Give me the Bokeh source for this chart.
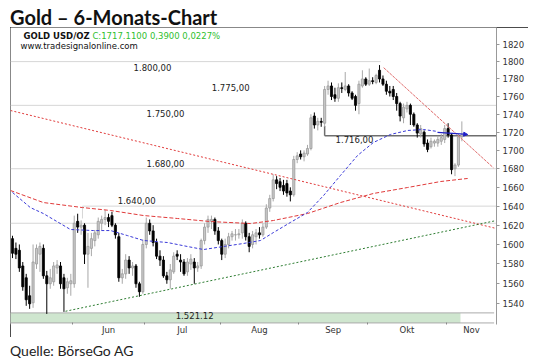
import numpy as np
from bokeh.plotting import figure
from bokeh.models import (Range1d, FixedTicker, NumeralTickFormatter, Label, Div,
                          Arrow, NormalHead, ColumnDataSource)
from bokeh.layouts import column
from bokeh.embed import file_html
from bokeh.resources import INLINE

# ---------------- data (daily OHLC, trading days from 8 May) ----------------
opn = [1606, 1596, 1594, 1578, 1566, 1548, 1541, 1580, 1590, 1596, 1568, 1560, 1562, 1576, 1578, 1566, 1556, 1560,
       1560, 1624, 1618, 1620, 1590, 1596, 1604, 1610, 1622, 1626, 1628, 1630, 1620, 1608, 1566, 1570, 1584, 1576,
       1578, 1560, 1552, 1600, 1622, 1614, 1602, 1588, 1584, 1568, 1564, 1572, 1590, 1584, 1582, 1572, 1580, 1582,
       1576, 1578, 1604, 1618, 1624, 1626, 1614, 1604, 1590, 1600, 1608, 1610, 1610, 1612, 1622, 1608, 1600, 1608,
       1612, 1610, 1618, 1638, 1648, 1668, 1666, 1662, 1664, 1656, 1652, 1690, 1696, 1693, 1696, 1702, 1738, 1728,
       1732, 1730, 1768, 1772, 1762, 1758, 1770, 1768, 1772, 1764, 1760, 1752, 1772, 1780, 1774, 1778, 1776, 1790,
       1780, 1774, 1766, 1768, 1760, 1752, 1736, 1746, 1750, 1740, 1728, 1718, 1720, 1708, 1704, 1708, 1708, 1710,
       1712, 1724, 1717, 1680, 1684, 1715]
high = [1609, 1602, 1600, 1582, 1570, 1558, 1600, 1600, 1602, 1600, 1573, 1575, 1582, 1584, 1582, 1570, 1566, 1570,
        1630, 1632, 1625, 1622, 1612, 1612, 1615, 1628, 1630, 1636, 1632, 1634, 1622, 1612, 1575, 1590, 1588, 1582,
        1580, 1562, 1605, 1628, 1626, 1620, 1606, 1594, 1588, 1572, 1580, 1592, 1594, 1590, 1585, 1586, 1590, 1586,
        1582, 1606, 1622, 1630, 1630, 1628, 1618, 1606, 1606, 1612, 1614, 1616, 1616, 1626, 1624, 1612, 1614, 1616,
        1618, 1622, 1642, 1652, 1674, 1672, 1670, 1668, 1668, 1660, 1694, 1698, 1700, 1700, 1706, 1740, 1742, 1736,
        1736, 1772, 1778, 1776, 1770, 1775, 1776, 1788, 1774, 1766, 1762, 1778, 1790, 1782, 1792, 1782, 1786, 1796,
        1784, 1778, 1772, 1772, 1764, 1754, 1752, 1754, 1752, 1742, 1730, 1728, 1722, 1712, 1714, 1712, 1716, 1718,
        1728, 1730, 1719, 1686, 1718, 1732]
low = [1586, 1585, 1572, 1553, 1538, 1535, 1536, 1575, 1572, 1565, 1530, 1555, 1558, 1570, 1555, 1532, 1550, 1548,
       1556, 1612, 1610, 1580, 1556, 1588, 1598, 1606, 1615, 1620, 1618, 1618, 1606, 1562, 1560, 1565, 1570, 1568,
       1556, 1547, 1550, 1596, 1610, 1598, 1585, 1578, 1566, 1560, 1555, 1570, 1584, 1572, 1568, 1568, 1574, 1560,
       1572, 1575, 1600, 1612, 1616, 1610, 1600, 1584, 1586, 1596, 1604, 1604, 1606, 1606, 1604, 1592, 1596, 1600,
       1606, 1608, 1616, 1634, 1645, 1658, 1656, 1652, 1650, 1645, 1650, 1686, 1690, 1688, 1694, 1700, 1724, 1722,
       1726, 1726, 1762, 1756, 1754, 1754, 1764, 1766, 1760, 1756, 1744, 1740, 1770, 1772, 1772, 1774, 1774, 1776,
       1772, 1762, 1760, 1756, 1744, 1732, 1730, 1742, 1728, 1726, 1714, 1714, 1704, 1698, 1702, 1704, 1704, 1706,
       1708, 1714, 1674, 1672, 1682, 1710]
close = [1591, 1590, 1576, 1557, 1544, 1540, 1582, 1596, 1598, 1568, 1560, 1566, 1578, 1579, 1560, 1555, 1562, 1563,
         1622, 1618, 1620, 1590, 1598, 1606, 1612, 1624, 1626, 1628, 1624, 1620, 1610, 1566, 1570, 1584, 1576, 1578,
         1560, 1552, 1600, 1622, 1614, 1602, 1588, 1584, 1568, 1564, 1574, 1588, 1588, 1582, 1570, 1582, 1585, 1576,
         1578, 1604, 1618, 1626, 1626, 1614, 1604, 1590, 1600, 1608, 1611, 1610, 1611, 1622, 1608, 1598, 1610, 1612,
         1610, 1618, 1638, 1648, 1668, 1664, 1660, 1656, 1654, 1652, 1690, 1694, 1693, 1697, 1702, 1736, 1728, 1732,
         1731, 1768, 1772, 1760, 1758, 1770, 1769, 1772, 1764, 1758, 1750, 1774, 1780, 1774, 1778, 1777, 1784, 1780,
         1774, 1766, 1764, 1760, 1752, 1738, 1748, 1750, 1740, 1728, 1719, 1724, 1707, 1701, 1710, 1710, 1712, 1714,
         1724, 1717, 1679, 1684, 1715, 1717]

# moving averages (day index, price)
ma200_x = [-0.6, 9.0, 20.4, 28.6, 38.2, 48.1, 57.7, 69.4, 76.1, 86.0, 95.6, 105.2, 115.2, 124.8, 132.7]
ma200_y = [1656.6, 1643.8, 1638.5, 1635.4, 1630.1, 1627.0, 1623.8, 1621.7, 1624.9, 1632.2, 1643.8, 1653.4,
           1659.8, 1666.2, 1669.5]
ma50_x = [0, 5.2, 9.0, 16.9, 23.6, 28.6, 33.5, 38.2, 45.2, 51.0, 55.7, 61.5, 67.3, 72.3, 76.1, 81.0, 86.0,
          90.7, 95.6, 100.6, 105.2, 110.2, 115.2, 119.8, 123.9]
ma50_y = [1654.5, 1638.5, 1632.2, 1615.5, 1614.4, 1614.4, 1609.2, 1604.1, 1602.0, 1597.9, 1594.8, 1597.9,
          1601.0, 1604.1, 1612.4, 1622.8, 1633.3, 1651.3, 1672.7, 1694.4, 1708.6, 1717.5, 1721.9, 1723.0, 1720.8]

# trend lines (start/end: day index, price)
trend_long_x = [-0.58, 141.1]
trend_long_y = [1744.2, 1616.5]
trend_up_x = [15.45, 141.1]
trend_up_y = [1532.6, 1624.9]
trend_steep_x = [108.2, 140.2]
trend_steep_y = [1793.0, 1681.0]

# horizontal levels
level_vals = [1800, 1775, 1750, 1716, 1680, 1640, 1521.12]
level_text = ["1.800,00", "1.775,00", "1.750,00", "1.716,00", "1.680,00", "1.640,00", "1.521.12"]
band_top = 1531.0

# axes
month_names = ["Jun", "Jul", "Aug", "Sep", "Okt", "Nov"]
month_start = [17.5, 38.5, 60.5, 83.5, 103.5, 126.5]
price_ticks = list(range(1540, 1821, 20))

X0, X1 = -0.58, 141.1
Y0, Y1 = 1519.6, 1840.0
SMALL = "DejaVu Sans"

# ---------------- figure ----------------
o = np.array(opn, float); h = np.array(high, float); l = np.array(low, float); c = np.array(close, float)
idx = np.arange(len(c))
up = c >= o
src = ColumnDataSource(dict(
    x=idx, top=np.maximum(o, c), bot=np.minimum(o, c), hi=h, lo=l,
    fill=np.where(up, "#c8c8c8", "#000000"),
    edge=np.where(up, "#9a9a9a", "#000000"),
    wick=np.where(up, "#a8a8a8", "#000000"),
))

p = figure(width=518, height=310, x_range=Range1d(X0, X1), y_range=Range1d(Y0, Y1),
           y_axis_type="log", y_axis_location="right", output_backend="svg", toolbar_location=None,
           min_border_left=0, min_border_right=32, min_border_top=0, min_border_bottom=13,
           background_fill_color="white", border_fill_color="white")
p.styles = {"outline": "1.5px solid #111", "outline-offset": "-1.5px"}
p.outline_line_color = None
p.xgrid.visible = False
p.ygrid.visible = False

# y axis
ya = p.yaxis[0]
ya.ticker = FixedTicker(ticks=price_ticks)
ya.formatter = NumeralTickFormatter(format="0")
ya.major_label_text_font = SMALL
ya.major_label_text_font_size = "8.5px"
ya.major_label_text_color = "#333333"
ya.axis_line_color = "#999999"
ya.major_tick_line_color = "#999999"
ya.major_tick_out = 3
ya.major_tick_in = 0
ya.minor_tick_line_color = None
ya.minor_tick_out = 0
ya.major_label_standoff = 3
ya.axis_label_standoff = 0

# x axis
month_mid = [(month_start[k] + (month_start[k + 1] if k + 1 < len(month_start) else X1)) / 2
             for k in range(len(month_start))]
xa = p.xaxis[0]
xa.ticker = FixedTicker(ticks=month_mid, minor_ticks=month_start)
xa.major_label_overrides = {m: n for m, n in zip(month_mid, month_names)}
xa.major_label_text_font = SMALL
xa.major_label_text_font_size = "8.5px"
xa.major_label_text_color = "#333333"
xa.axis_line_color = None
xa.major_tick_line_color = None
xa.major_tick_out = 0
xa.major_tick_in = 0
xa.minor_tick_line_color = "#888888"
xa.minor_tick_out = 0
xa.minor_tick_in = 2
xa.major_label_standoff = 0
xa.axis_label_standoff = 0

# support band + levels
p.quad(left=X0, right=130.6, bottom=level_vals[6], top=band_top, fill_color="#cfe6cf", line_color=None)
p.segment(x0=[X0, X0], x1=[140.4, 140.4], y0=[level_vals[6], band_top], y1=[level_vals[6], band_top],
          line_color="#aaaaaa", line_width=1)
light = "#d6d6d6"
p.segment(x0=[X0, X0, X0, 20.4, X0], x1=[107.3, X1, X1, X1, X1],
          y0=[level_vals[0], level_vals[2], level_vals[4], level_vals[5], 1622],
          y1=[level_vals[0], level_vals[2], level_vals[4], level_vals[5], 1622],
          line_color=light, line_width=1)
p.segment(x0=[20.4], x1=[20.4], y0=[level_vals[5]], y1=[1627], line_color=light, line_width=1)
p.segment(x0=[91.0, 91.0], x1=[X1, 91.0], y0=[level_vals[3], level_vals[3]], y1=[level_vals[3], 1727],
          line_color="#6e6e6e", line_width=1.5)

# candles
p.segment(x0="x", x1="x", y0="lo", y1="hi", line_color="wick", line_width=1, source=src)
p.vbar(x="x", width=0.62, top="top", bottom="bot", fill_color="fill", line_color="edge", line_width=0.8,
       source=src)

# moving averages and trend lines
p.line(ma200_x, ma200_y, line_color="#e03a3a", line_width=1, line_dash="4 2")
p.line(ma50_x, ma50_y, line_color="#3a3ad8", line_width=1, line_dash="3 2")
p.line(trend_long_x, trend_long_y, line_color="#e03a3a", line_width=1, line_dash="2 2")
p.line(trend_up_x, trend_up_y, line_color="#2e7d32", line_width=1, line_dash="2 2")
p.line(trend_steep_x, trend_steep_y, line_color="#e06a6a", line_width=1, line_dash="3 1")
p.add_layout(Arrow(end=NormalHead(size=4, fill_color="#2020c8", line_color="#2020c8"),
                   x_start=123.9, y_start=1719.7, x_end=132.7, y_end=1717.5,
                   line_color="#2020c8", line_width=1.2))

# level labels
lab_x = [40.8, 63.6, 44.6, 99.7, 44.6, 36.2, 53.1]
lab_y = [1793.2, 1770.3, 1740.9, 1711.9, 1685.7, 1645.9, 1528.4]
for t, lx, ly in zip(level_text, lab_x, lab_y):
    p.add_layout(Label(x=lx, y=ly, text=t, text_align="center", text_baseline="middle",
                       text_font=SMALL, text_font_size="8.5px", text_color="#222222"))

# header inside chart
p.add_layout(Label(x=3.2, y=1829.4, text="GOLD USD/OZ", text_font=SMALL, text_font_size="8.5px",
                   text_font_style="bold", text_color="#111111", text_baseline="alphabetic"))
p.add_layout(Label(x=23.3, y=1829.4, text="C:1717.1100  0,3900  0,0227%", text_font=SMALL,
                   text_font_size="8.5px", text_color="#2fc02f", text_baseline="alphabetic"))
p.add_layout(Label(x=2.33, y=1818.2, text="www.tradesignalonline.com", text_font=SMALL,
                   text_font_size="8.5px", text_color="#111111", text_baseline="alphabetic"))
p.add_layout(Label(x=142.3, y=1829.4, text="$", text_font=SMALL, text_font_size="8px",
                   text_font_style="bold", text_color="#333333", text_baseline="alphabetic"))

title = Div(text="Gold – 6-Monats-Chart", width=520, height=19, margin=(8, 0, 0, 10),
            styles={"font-family": "Lato", "font-weight": "bold", "font-size": "20px", "line-height": "19px",
                    "color": "#111111", "white-space": "nowrap"})
src_div = Div(text="Quelle: BörseGo AG", width=300, height=15, margin=(6, 0, 0, 10),
              styles={"font-family": "Lato", "font-size": "14px", "line-height": "16px", "color": "#222222",
                      "white-space": "nowrap"})
p.margin = (0, 0, 0, 10)

page = column(title, p, src_div, spacing=0)
open("out.html", "w").write(file_html(page, INLINE))
